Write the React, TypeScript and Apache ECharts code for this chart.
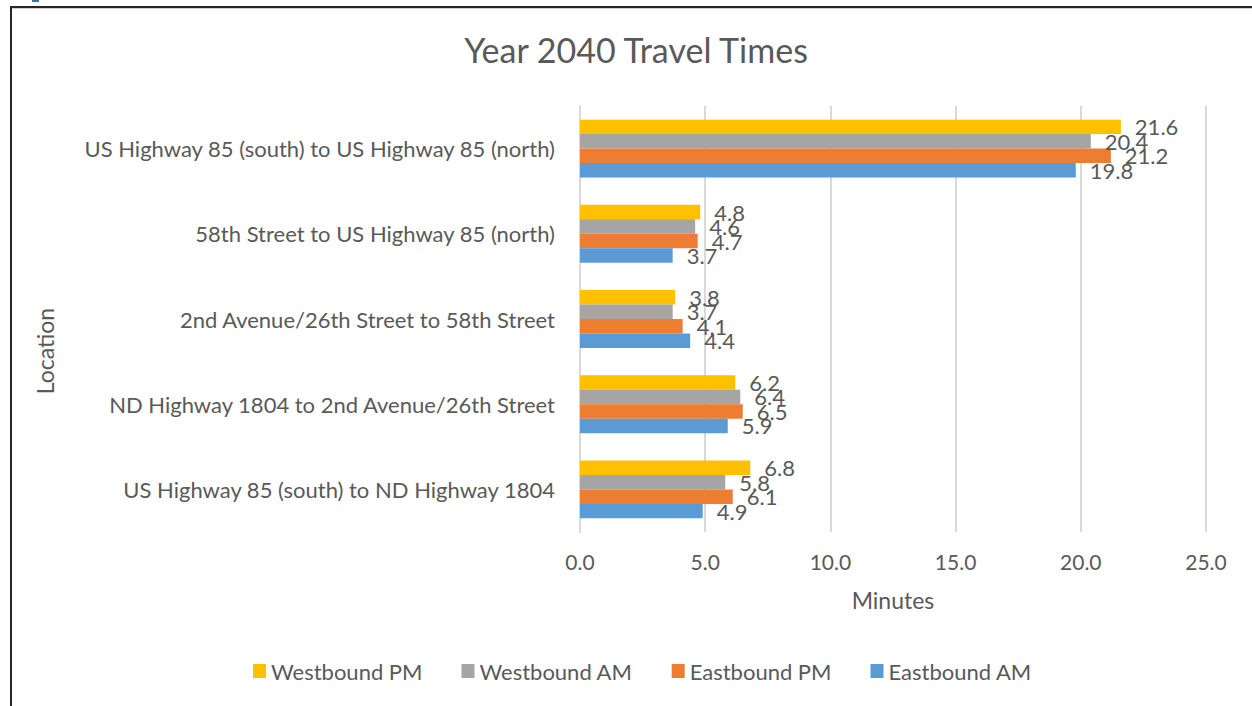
import React, { useEffect, useRef } from "react";
import * as echarts from "echarts";

const categories = [
  "US Highway 85 (south) to ND Highway 1804",
  "ND Highway 1804 to 2nd Avenue/26th Street",
  "2nd Avenue/26th Street to 58th Street",
  "58th Street to US Highway 85 (north)",
  "US Highway 85 (south) to US Highway 85 (north)",
];
const westboundPM = [6.8, 6.2, 3.8, 4.8, 21.6];
const westboundAM = [5.8, 6.4, 3.7, 4.6, 20.4];
const eastboundPM = [6.1, 6.5, 4.1, 4.7, 21.2];
const eastboundAM = [4.9, 5.9, 4.4, 3.7, 19.8];
const legendOrder = ["Westbound PM", "Westbound AM", "Eastbound PM", "Eastbound AM"];

const FONT = "Lato";
const TXT = "#595959";

export default function App() {
  const ref = useRef<HTMLDivElement>(null);
  useEffect(() => {
    document.body.style.margin = "0";
    const chart = echarts.init(ref.current!, null, { renderer: "svg" });
    const mk = (name: string, data: number[], color: string) => ({
      name,
      type: "bar",
      data,
      barGap: "0%",
      barCategoryGap: "32%",
      itemStyle: { color },
      label: {
        show: true,
        position: "right",
        distance: 14,
        color: TXT,
        fontSize: 22,
        fontFamily: FONT,
        formatter: (p: any) => Number(p.value).toFixed(1),
      },
    });
    chart.setOption({
      animation: false,
      textStyle: { fontFamily: FONT },
      title: {
        text: "Year 2040 Travel Times",
        left: 631,
        textAlign: "center",
        top: 27,
        textStyle: { fontSize: 34, fontWeight: "normal", color: TXT, fontFamily: FONT },
      },
      legend: {
        data: legendOrder,
        left: 248,
        top: 655,
        itemWidth: 13,
        itemHeight: 14,
        itemGap: 39,
        icon: "rect",
        textStyle: { fontSize: 22, color: TXT, fontFamily: FONT },
      },
      grid: { left: 580, right: 46, top: 106, bottom: 174, containLabel: false },
      xAxis: {
        type: "value",
        min: 0,
        max: 25,
        interval: 5,
        name: "Minutes",
        nameLocation: "middle",
        nameGap: 56,
        nameTextStyle: { fontSize: 23, color: TXT, fontFamily: FONT },
        axisLabel: {
          fontSize: 21,
          color: TXT,
          margin: 19,
          fontFamily: FONT,
          formatter: (v: number) => v.toFixed(1),
        },
        axisLine: { show: false },
        axisTick: { show: false },
        splitLine: { lineStyle: { color: "#d9d9d9", width: 2 } },
      },
      yAxis: {
        type: "category",
        data: categories,
        axisLabel: { fontSize: 22, color: TXT, margin: 25, fontFamily: FONT },
        axisLine: { show: true, lineStyle: { color: "#d9d9d9", width: 2 } },
        axisTick: { show: false },
      },
      graphic: [
        { type: "rect", shape: { x: 10, y: 6, width: 1242, height: 2 }, style: { fill: "#262626" } },
        { type: "rect", shape: { x: 10, y: 8, width: 1242, height: 1 }, style: { fill: "#d0d0d0" } },
        { type: "rect", shape: { x: 10, y: 6, width: 2, height: 700 }, style: { fill: "#262626" } },
        { type: "rect", shape: { x: 32, y: 0, width: 7, height: 2 }, style: { fill: "#2e75b6" } },
        {
          type: "text",
          x: 45,
          y: 351,
          rotation: Math.PI / 2,
          style: {
            text: "Location",
            fontSize: 23,
            fill: TXT,
            fontFamily: FONT,
            align: "center",
            verticalAlign: "middle",
          },
        },
      ],
      series: [
        mk("Westbound PM", westboundPM, "#ffc000"),
        mk("Westbound AM", westboundAM, "#a5a5a5"),
        mk("Eastbound PM", eastboundPM, "#ed7d31"),
        mk("Eastbound AM", eastboundAM, "#5b9bd5"),
      ],
    });
    return () => chart.dispose();
  }, []);
  return <div ref={ref} style={{ width: 1252, height: 706, position: "absolute", left: 0, top: 0 }} />;
}
